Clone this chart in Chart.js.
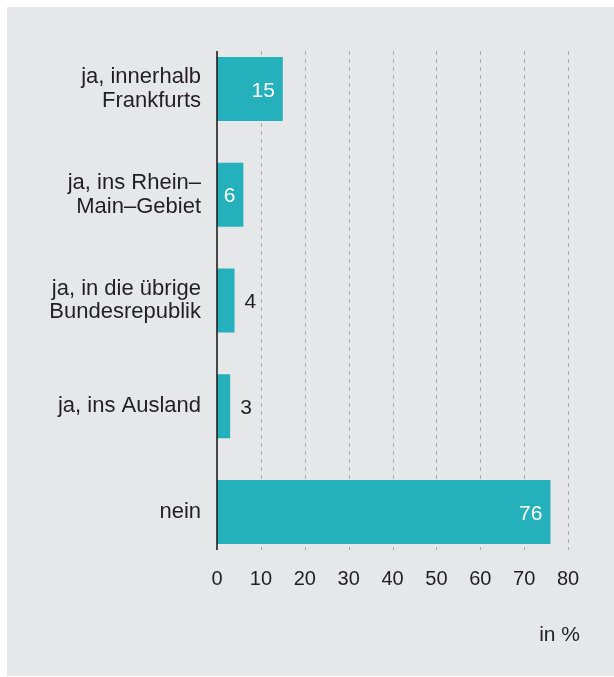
<!DOCTYPE html>
<html>
<head>
<meta charset="utf-8">
<script src="https://cdn.jsdelivr.net/npm/chart.js@4/dist/chart.umd.min.js"></script>
<style>
  html, body { margin: 0; padding: 0; background: #ffffff; }
  #wrap { width: 614px; height: 677px; }
</style>
</head>
<body>
<div id="wrap"><canvas id="chart" width="614" height="677"></canvas></div>
<script>
// ================= DATA =================
const kategorien = [
    ['ja, innerhalb', 'Frankfurts'],
    ['ja, ins Rhein–', 'Main–Gebiet'],
    ['ja, in die übrige', 'Bundesrepublik'],
    'ja, ins Ausland',
    'nein'
];
const anteile = [15, 6, 4, 3, 76];
const achsenTicks = [0, 10, 20, 30, 40, 50, 60, 70, 80];
const einheit = 'in %';

const TEXT = '#231f20';
const BAR = '#24b1bb';
const FONT = "'Liberation Sans', Arial, Helvetica, sans-serif";

// background panel, grid and axis line
const hintergrund = {
    id: 'hintergrund',
    beforeDraw(chart) {
        const ctx = chart.ctx;
        ctx.save();
        ctx.fillStyle = '#e6e7e9';
        ctx.fillRect(7, 7, 607, 669);
        ctx.restore();
    },
    beforeDatasetsDraw(chart) {
        const ctx = chart.ctx;
        const area = chart.chartArea;
        const x = chart.scales.x;
        const top = area.top + 15, bottom = area.bottom - 15;
        ctx.save();
        ctx.strokeStyle = '#a9a9ab';
        ctx.lineWidth = 1;
        ctx.setLineDash([4, 4]);
        achsenTicks.forEach(function (v) {
            if (v === 0) return;
            const px = Math.round(x.getPixelForValue(v)) + 0.5;
            ctx.beginPath();
            ctx.moveTo(px, top);
            ctx.lineTo(px, bottom);
            ctx.stroke();
        });
        ctx.restore();
    },
    afterDatasetsDraw(chart) {
        const ctx = chart.ctx;
        const area = chart.chartArea;
        const x = chart.scales.x;
        const px = x.getPixelForValue(0);
        ctx.save();
        ctx.strokeStyle = TEXT;
        ctx.lineWidth = 1.6;
        ctx.beginPath();
        ctx.moveTo(px, area.top + 15);
        ctx.lineTo(px, area.bottom - 15);
        ctx.stroke();

        // value labels
        ctx.font = '21px ' + FONT;
        ctx.textBaseline = 'middle';
        const meta = chart.getDatasetMeta(0);
        meta.data.forEach(function (bar, i) {
            const txt = String(anteile[i]);
            const w = ctx.measureText(txt).width;
            const breite = bar.x - bar.base;
            if (breite > w + 14) {
                ctx.fillStyle = '#ffffff';
                ctx.textAlign = 'right';
                ctx.fillText(txt, bar.x - 8, bar.y + 2);
            } else {
                ctx.fillStyle = TEXT;
                ctx.textAlign = 'left';
                ctx.fillText(txt, bar.x + 10, bar.y + 2);
            }
        });

        // unit label
        ctx.fillStyle = TEXT;
        ctx.textAlign = 'right';
        ctx.font = '21px ' + FONT;
        ctx.fillText(einheit, 580, 635);
        ctx.restore();
    }
};

new Chart(document.getElementById('chart'), {
    type: 'bar',
    data: {
        labels: kategorien,
        datasets: [{
            data: anteile,
            backgroundColor: BAR,
            barPercentage: 1,
            categoryPercentage: 0.605
        }]
    },
    options: {
        indexAxis: 'y',
        responsive: false,
        animation: false,
        layout: { padding: { top: 36, right: 46, bottom: 0, left: 0 } },
        plugins: {
            legend: { display: false },
            tooltip: { enabled: false }
        },
        scales: {
            x: {
                min: 0,
                max: 80,
                afterBuildTicks(scale) {
                    scale.ticks = achsenTicks.map(function (v) { return { value: v }; });
                },
                afterFit(scale) { scale.height = 112; },
                grid: { display: false, drawTicks: false },
                border: { display: false },
                ticks: {
                    padding: 2,
                    color: TEXT,
                    font: { family: FONT, size: 20 }
                }
            },
            y: {
                afterFit(scale) { scale.width = 217; },
                grid: { display: false, drawTicks: false },
                border: { display: false },
                ticks: {
                    padding: 16,
                    color: TEXT,
                    font: { family: FONT, size: 22, lineHeight: 1.07 }
                }
            }
        }
    },
    plugins: [hintergrund]
});
</script>
</body>
</html>
